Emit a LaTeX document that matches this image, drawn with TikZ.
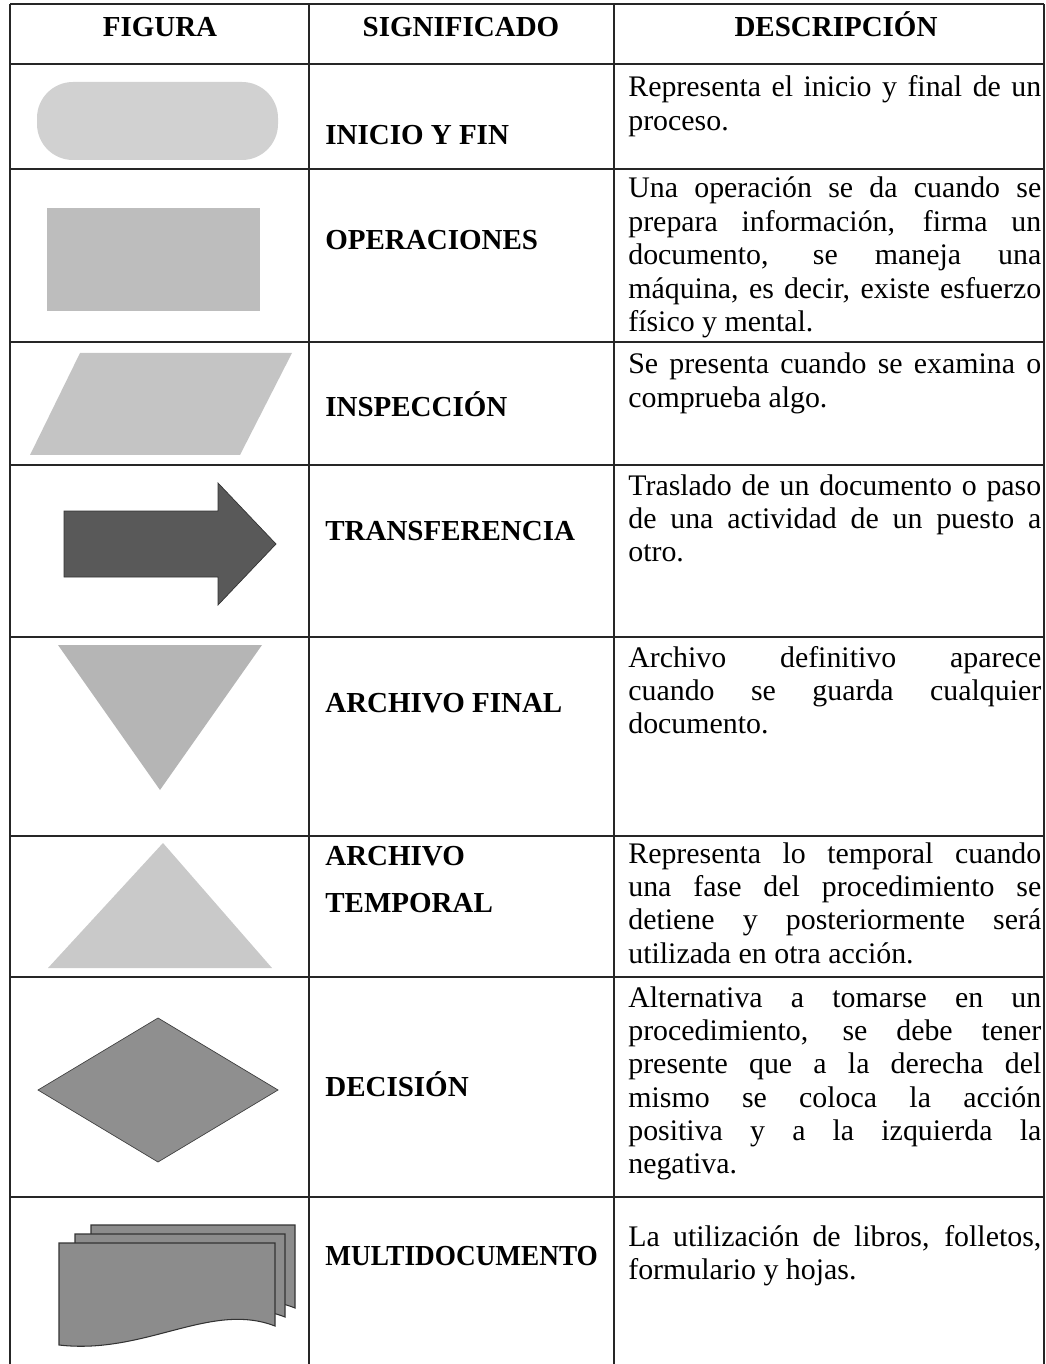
\documentclass[tikz,border=0pt]{standalone}
\usepackage{fontspec}
\setmainfont{Liberation Serif}

\tikzset{
  grid/.style={line width=1.1pt, black!85},
  head/.style={font=\fontsize{16.5}{19}\selectfont\bfseries, inner sep=0pt, anchor=base},
  sig/.style={font=\fontsize{16.5}{19}\selectfont\bfseries, inner sep=0pt, anchor=base west},
  desc/.style={font=\fontsize{17}{19}\selectfont, inner sep=0pt, anchor=base west},
  page/.style={fill=black!45, draw=black!80, line width=0.6pt},
}
\newcommand{\desctext}[1]{\parbox[t]{8.26cm}{\lineskiplimit=-\maxdimen
  \tolerance=10000\hyphenpenalty=10000 #1}}

\begin{document}
\begin{tikzpicture}[x=0.02cm, y=-0.02cm]
  \useasboundingbox (0,0) rectangle (1045,1364);

  % Table lines
  \foreach \y in {4,64,169,342,465,637,836,977,1197}
    \draw[grid] (10,\y) -- (1044,\y);
  \foreach \x in {10,309,614,1044}
    \draw[grid] (\x,4) -- (\x,1364);

  % Header
  \node[head] (hfig) at (160,37) {FIGURA};
  \node[head] (hsig) at (461,37) {SIGNIFICADO};
  \node[head] (hdesc) at (836,37) {DESCRIPCIÓN};

  % Inicio y fin
  \fill[black!18, rounded corners=0.72cm] (37,82) rectangle (278,160);
  \node[sig] (sig1) at (325,145) {INICIO Y FIN};
  \node[desc] (desc1) at (628,97) {\desctext{Representa el inicio y final de un\linebreak proceso.}};

  % Operaciones
  \fill[black!26] (47,208) rectangle (260,311);
  \node[sig] (sig2) at (325,250) {OPERACIONES};
  \node[desc] (desc2) at (628,198) {\desctext{Una operación se da cuando se\linebreak prepara información, firma un\linebreak documento, se maneja una\linebreak máquina, es decir, existe esfuerzo\linebreak físico y mental.}};

  % Inspeccion
  \fill[black!23] (80,353) -- (292,353) -- (240,455) -- (30,455) -- cycle;
  \node[sig] (sig3) at (325,417) {INSPECCIÓN};
  \node[desc] (desc3) at (628,374) {\desctext{Se presenta cuando se examina o\linebreak comprueba algo.}};

  % Transferencia
  \draw[fill=black!65, draw=black!80] (64,511) -- (218,511) -- (218,483) -- (276,544)
    -- (218,605) -- (218,577) -- (64,577) -- cycle;
  \node[sig] (sig4) at (325,540) {TRANSFERENCIA};
  \node[desc] (desc4) at (628,495) {\desctext{Traslado de un documento o paso\linebreak de una actividad de un puesto a\linebreak otro.}};

  % Archivo final
  \fill[black!29] (58,645) -- (262,645) -- (160,790) -- cycle;
  \node[sig] (sig5) at (325,712) {ARCHIVO FINAL};
  \node[desc] (desc5) at (628,667) {\desctext{Archivo definitivo aparece\linebreak cuando se guarda cualquier\linebreak documento.}};

  % Archivo temporal
  \fill[black!21] (163,843) -- (272,968) -- (48,968) -- cycle;
  \node[sig] (sig6a) at (325,865) {ARCHIVO};
  \node[sig] (sig6b) at (325,912) {TEMPORAL};
  \node[desc] (desc6) at (628,863) {\desctext{Representa lo temporal cuando\linebreak una fase del procedimiento se\linebreak detiene y posteriormente será\linebreak utilizada en otra acción.}};

  % Decision
  \draw[fill=black!44, draw=black!75] (38,1090) -- (158,1018) -- (278,1090) -- (158,1162) -- cycle;
  \node[sig] (sig7) at (325,1096) {DECISIÓN};
  \node[desc] (desc7) at (628,1007) {\desctext{Alternativa a tomarse en un\linebreak procedimiento, se debe tener\linebreak presente que a la derecha del\linebreak mismo se coloca la acción\linebreak positiva y a la izquierda la\linebreak negativa.}};

  % Multidocumento
  \foreach \l/\r/\t in {91/295/1225, 75/285/1234, 59/275/1243}
    \draw[page] (\l,\t) -- (\r,\t) -- (\r,\t+83)
      .. controls ({\r-0.3*(\r-\l)},\t+58) and ({\l+0.4*(\r-\l)},\t+112) .. (\l,\t+102) -- cycle;
  \node[sig] (sig8) at (325,1265) {\scalebox{0.94}[1]{MULTIDOCUMENTO}};
  \node[desc] (desc8) at (628,1246) {\desctext{La utilización de libros, folletos,\linebreak formulario y hojas.}};
\end{tikzpicture}
\end{document}
